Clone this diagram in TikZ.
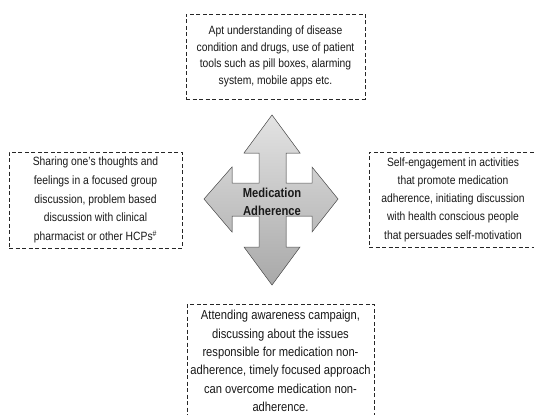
\documentclass[tikz,border=0pt]{standalone}
\usepackage{fontspec}
\setmainfont{Liberation Sans}[FakeStretch=0.86]
\usetikzlibrary{shapes, positioning}
\tikzstyle{note} = [draw=black!85, dash pattern=on 4pt off 2.5pt, line width=0.9pt, align=center, inner sep=0pt, text=black!90]
\tikzstyle{quad} = [draw=gray!70!black, line width=0.5pt, top color=gray!22, bottom color=gray!68]
\tikzstyle{hubtext} = [font=\fontsize{13}{18}\selectfont\bfseries, align=center, text=black!90]

\begin{document}
\begin{tikzpicture}[x=1pt,y=-1pt]
\useasboundingbox (0,0) rectangle (534,414);
\clip (0,0) rectangle (534,414);
\fill[white] (0,0) rectangle (534,414);

% four-way arrow
\filldraw[quad] (272,115) -- (300,153) -- (286,153) -- (286,183) -- (312,183) -- (312,167)
  -- (338,199) -- (312,232) -- (312,216) -- (286,216) -- (286,247) -- (300,247)
  -- (272,285) -- (244,247) -- (259,247) -- (259,216) -- (232,216) -- (232,232)
  -- (204,199) -- (232,167) -- (232,183) -- (259,183) -- (259,153) -- (244,153) -- cycle;
\begin{scope}
\clip (228,170) rectangle (316,215);
\node[hubtext] (hub) at (272,202) {Medication\\Adherence};
\end{scope}

\node[note, minimum width=179pt, minimum height=85pt, font=\fontsize{12}{16.7}\selectfont] (tools) at (275.5,56.5)
  {Apt understanding of disease\\condition and drugs, use of patient\\tools such as pill boxes, alarming\\system, mobile apps etc.};
\node[note, minimum width=173pt, minimum height=96pt, font=\fontsize{12}{18.7}\selectfont] (group) at (95.5,200)
  {Sharing one’s thoughts and\\feelings in a focused group\\discussion, problem based\\discussion with clinical\\pharmacist or other HCPs\textsuperscript{\#}};
\node[note, minimum width=168pt, minimum height=95pt, font=\fontsize{12}{18.2}\selectfont] (self) at (453,199.5)
  {Self-engagement in activities\\that promote medication\\adherence, initiating discussion\\with health conscious people\\that persuades self-motivation};
\node[note, minimum width=187pt, minimum height=114pt, font=\fontsize{13}{18.3}\selectfont] (campaign) at (280.5,361)
  {Attending awareness campaign,\\discussing about the issues\\responsible for medication non-\\adherence, timely focused approach\\can overcome medication non-\\adherence.};
\end{tikzpicture}
\end{document}
